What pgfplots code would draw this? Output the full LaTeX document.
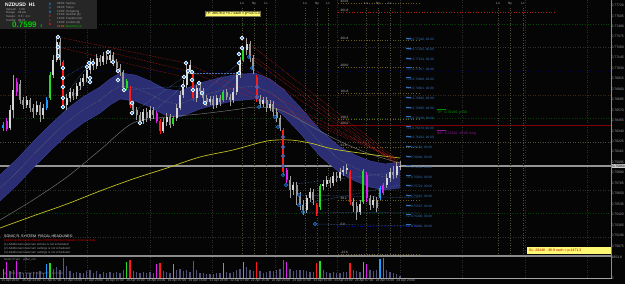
\documentclass[border=0pt]{standalone}
\usepackage{pgfplots}
\pgfplotsset{compat=1.18}
\usepackage{pgfplotstable}
\usepackage{fontspec}
\setmainfont{Liberation Sans}

\definecolor{bg}{HTML}{050505}
\definecolor{gridc}{HTML}{303030}
\definecolor{candup}{HTML}{D6D6D6}
\definecolor{canddn}{HTML}{969696}
\definecolor{wick}{HTML}{A0A0A0}
\definecolor{cred}{HTML}{FF1A1A}
\definecolor{cgreen}{HTML}{22DD22}
\definecolor{cmag}{HTML}{DD22EE}
\definecolor{cblue}{HTML}{1E9BFF}
\definecolor{vol}{HTML}{50507A}
\definecolor{band}{HTML}{2B2E72}
\definecolor{bandedge}{HTML}{3C42A2}
\definecolor{ma}{HTML}{707070}
\definecolor{yel}{HTML}{C0C020}
\definecolor{dotb}{HTML}{1F7BE0}
\definecolor{reddot}{HTML}{B41C1C}
\definecolor{bluedot}{HTML}{4A6FB0}
\definecolor{fib}{HTML}{6A5C18}
\definecolor{tpblue}{HTML}{3470B8}
\definecolor{lab}{HTML}{A0A0A0}

\newcommand{\fs}[1]{\fontsize{#1}{#1}\selectfont}

% bearish grey candles: i open high low close volume
\pgfplotstableread{
i o h l c v
5 0.76856 0.76900 0.76636 0.76680 600
6 0.76680 0.76713 0.76581 0.76625 500
8 0.76680 0.76702 0.76548 0.76592 500
9 0.76592 0.76636 0.76482 0.76548 600
11 0.76625 0.76658 0.76438 0.76515 650
17 0.77318 0.77362 0.77054 0.77120 800
21 0.76768 0.76801 0.76680 0.76724 500
27 0.77098 0.77131 0.77010 0.77054 500
29 0.77142 0.77175 0.77054 0.77098 400
31 0.77164 0.77197 0.77076 0.77120 450
33 0.77175 0.77208 0.77054 0.77098 500
34 0.77098 0.77131 0.76988 0.77032 550
35 0.77032 0.77076 0.76944 0.76988 450
36 0.76988 0.77010 0.76768 0.76812 800
39 0.76625 0.76669 0.76526 0.76570 700
40 0.76570 0.76603 0.76460 0.76515 600
41 0.76515 0.76548 0.76405 0.76449 500
43 0.76548 0.76592 0.76438 0.76482 450
45 0.76570 0.76603 0.76471 0.76515 500
50 0.76493 0.76526 0.76372 0.76405 450
59 0.76812 0.76856 0.76735 0.76779 500
60 0.76779 0.76812 0.76647 0.76702 450
61 0.76702 0.76735 0.76614 0.76658 400
63 0.76691 0.76724 0.76581 0.76625 400
65 0.76702 0.76735 0.76614 0.76658 500
67 0.76768 0.76801 0.76680 0.76713 600
68 0.76713 0.76746 0.76614 0.76680 500
74 0.77296 0.77329 0.77098 0.77142 800
75 0.77142 0.77175 0.76966 0.77010 700
77 0.76691 0.76735 0.76592 0.76636 700
79 0.76680 0.76713 0.76548 0.76592 600
81 0.76636 0.76669 0.76504 0.76548 700
82 0.76548 0.76592 0.76438 0.76482 800
83 0.76482 0.76515 0.76339 0.76372 900
86 0.75800 0.75844 0.75602 0.75690 900
88 0.75745 0.75778 0.75525 0.75624 800
89 0.75624 0.75668 0.75470 0.75525 750
90 0.75525 0.75580 0.75415 0.75470 800
93 0.75668 0.75701 0.75525 0.75580 550
98 0.75800 0.75833 0.75712 0.75767 500
100 0.75844 0.75888 0.75778 0.75822 450
105 0.75558 0.75602 0.75448 0.75514 800
106 0.75514 0.75558 0.75360 0.75448 700
110 0.75602 0.75635 0.75470 0.75525 800
112 0.75580 0.75613 0.75448 0.75492 800
117 0.75888 0.75954 0.75811 0.75855 500
}\tabDown

% bullish light candles
\pgfplotstableread{
i o h l c v
2 0.76372 0.76625 0.76350 0.76570 700
3 0.76570 0.76955 0.76482 0.76790 800
7 0.76625 0.76724 0.76592 0.76680 450
10 0.76548 0.76669 0.76515 0.76625 550
12 0.76515 0.76636 0.76471 0.76592 500
15 0.76955 0.77175 0.76922 0.77120 900
16 0.77120 0.77373 0.77098 0.77318 1000
19 0.76625 0.76746 0.76570 0.76702 1100
20 0.76702 0.76812 0.76658 0.76768 700
22 0.76724 0.76867 0.76691 0.76834 600
23 0.76834 0.76922 0.76790 0.76878 500
24 0.76878 0.76966 0.76834 0.76922 450
25 0.76922 0.77054 0.76878 0.77010 700
26 0.77010 0.77142 0.76966 0.77098 800
28 0.77054 0.77186 0.77021 0.77142 650
30 0.77098 0.77208 0.77065 0.77164 550
32 0.77120 0.77230 0.77087 0.77175 600
42 0.76449 0.76581 0.76416 0.76548 550
44 0.76482 0.76614 0.76449 0.76570 600
48 0.76339 0.76482 0.76317 0.76438 700
49 0.76438 0.76537 0.76394 0.76493 550
52 0.76482 0.76636 0.76449 0.76592 800
53 0.76592 0.76779 0.76570 0.76735 900
54 0.76735 0.76900 0.76702 0.76845 700
55 0.76845 0.77065 0.76812 0.77010 800
56 0.77010 0.77120 0.76966 0.77065 600
58 0.76702 0.76845 0.76658 0.76812 800
62 0.76658 0.76724 0.76625 0.76691 350
64 0.76625 0.76735 0.76592 0.76702 450
69 0.76680 0.76812 0.76647 0.76768 550
70 0.76768 0.76988 0.76735 0.76955 800
71 0.76955 0.77153 0.76922 0.77120 900
73 0.77230 0.77362 0.77175 0.77296 1000
78 0.76636 0.76713 0.76603 0.76680 500
80 0.76592 0.76680 0.76559 0.76636 650
87 0.75690 0.75778 0.75635 0.75745 700
91 0.75470 0.75635 0.75437 0.75602 700
92 0.75602 0.75712 0.75558 0.75668 600
96 0.75734 0.75800 0.75690 0.75756 800
97 0.75756 0.75844 0.75723 0.75800 600
99 0.75767 0.75888 0.75734 0.75844 550
101 0.75822 0.75932 0.75789 0.75888 500
102 0.75888 0.75954 0.75844 0.75910 600
103 0.75910 0.75976 0.75866 0.75932 550
107 0.75448 0.75580 0.75415 0.75536 600
111 0.75525 0.75624 0.75492 0.75580 700
115 0.75745 0.75866 0.75712 0.75822 800
116 0.75822 0.75932 0.75778 0.75888 600
118 0.75855 0.75998 0.75822 0.75954 350
119 0.75954 0.76009 0.75910 0.75954 200
}\tabUp

% red signal candles
\pgfplotstableread{
i o h l c v
18 0.77098 0.77120 0.76592 0.76625 1900
38 0.76790 0.76834 0.76592 0.76625 1700
47 0.76449 0.76471 0.76306 0.76339 1400
57 0.76977 0.76999 0.76669 0.76702 1600
76 0.76933 0.76955 0.76658 0.76691 1500
84 0.76350 0.76372 0.75855 0.75888 1700
94 0.75525 0.75547 0.75404 0.75437 1400
104 0.75888 0.75910 0.75525 0.75558 1400
}\tabRed

% green signal candles
\pgfplotstableread{
i o h l c v
14 0.76702 0.76988 0.76680 0.76955 1400
37 0.76812 0.76911 0.76790 0.76889 1500
51 0.76416 0.76504 0.76394 0.76482 1300
66 0.76680 0.76790 0.76658 0.76768 1400
72 0.77120 0.77263 0.77098 0.77230 1500
95 0.75503 0.75756 0.75470 0.75734 1600
108 0.75558 0.75921 0.75536 0.75899 1500
}\tabGreen

% magenta signal candles
\pgfplotstableread{
i o h l c v
1 0.76449 0.76482 0.76339 0.76361 1500
4 0.76768 0.76922 0.76724 0.76878 1600
46 0.76537 0.76559 0.76427 0.76449 1300
85 0.75910 0.75932 0.75767 0.75800 1500
109 0.75855 0.75888 0.75558 0.75602 1300
114 0.75657 0.75767 0.75635 0.75745 1900
}\tabMag

% blue signal candles
\pgfplotstableread{
i o h l c v
0 0.76372 0.76438 0.76339 0.76405 900
13 0.76592 0.76713 0.76570 0.76680 1300
113 0.75602 0.75734 0.75580 0.75712 1800
}\tabBlue

% ribbon: upper edge, lower edge, centre
\pgfplotstableread{
i u d c
-1 0.75855 0.75569 0.75712
4.1 0.76031 0.75745 0.75888
8.9 0.76218 0.75932 0.76075
14 0.76405 0.76119 0.76262
19.1 0.76581 0.76295 0.76438
23.9 0.76713 0.76427 0.76570
29 0.76823 0.76537 0.76680
32 0.76911 0.76625 0.76768
35 0.76977 0.76691 0.76834
39.5 0.76955 0.76669 0.76812
44 0.76889 0.76603 0.76746
48.5 0.76801 0.76515 0.76658
53 0.76779 0.76493 0.76636
59 0.76867 0.76581 0.76724
63.5 0.76911 0.76625 0.76768
68.9 0.76955 0.76669 0.76812
75.5 0.76977 0.76691 0.76834
80 0.76911 0.76625 0.76768
83.9 0.76801 0.76515 0.76658
89 0.76603 0.76317 0.76460
95 0.76350 0.76064 0.76207
101 0.76163 0.75877 0.76020
105.5 0.76075 0.75789 0.75932
110 0.76009 0.75723 0.75866
114.5 0.75976 0.75690 0.75833
119 0.75998 0.75712 0.75855
}\banddata

% ribbon outline as one closed polygon (upper edge, then lower edge back)
\pgfplotstableread{
i p
-1 0.75855
4.1 0.76031
8.9 0.76218
14 0.76405
19.1 0.76581
23.9 0.76713
29 0.76823
32 0.76911
35 0.76977
39.5 0.76955
44 0.76889
48.5 0.76801
53 0.76779
59 0.76867
63.5 0.76911
68.9 0.76955
75.5 0.76977
80 0.76911
83.9 0.76801
89 0.76603
95 0.76350
101 0.76163
105.5 0.76075
110 0.76009
114.5 0.75976
119 0.75998
119 0.75712
114.5 0.75690
110 0.75723
105.5 0.75789
101 0.75877
95 0.76064
89 0.76317
83.9 0.76515
80 0.76625
75.5 0.76691
68.9 0.76669
63.5 0.76625
59 0.76581
53 0.76493
48.5 0.76515
44 0.76603
39.5 0.76669
35 0.76691
32 0.76625
29 0.76537
23.9 0.76427
19.1 0.76295
14 0.76119
8.9 0.75932
4.1 0.75745
-1 0.75569
}\bandpoly

\pgfplotstableread{
i p
-1 0.75360
8.9 0.75580
19.1 0.75833
29 0.76130
38.9 0.76427
49.1 0.76493
59 0.76526
68.9 0.76570
76.1 0.76603
83 0.76570
89 0.76460
98.9 0.76262
109.1 0.76097
119 0.75987
}\graydata

\pgfplotstableread{
i p
-1 0.75272
8.9 0.75404
19.1 0.75536
29 0.75679
38.9 0.75811
49.1 0.75932
59 0.76053
68.9 0.76130
79.1 0.76229
86 0.76240
92 0.76207
98.9 0.76141
109.1 0.76086
119 0.76042
}\yeldata

\newcommand{\CandleSet}[3]{%
\addplot[draw=none, mark=none,
  error bars/.cd, y dir=plus, y explicit, error mark=none,
  error bar style={line width=0.6pt, draw=#3, solid}]
  table[x=i, y=l, y error expr={\thisrow{h}-\thisrow{l}}]{#1};
\addplot[draw=none, mark=none,
  error bars/.cd, y dir=plus, y explicit, error mark=none,
  error bar style={line width=1.8pt, draw=#2, solid}]
  table[x=i, y expr={min(\thisrow{o},\thisrow{c})}, y error expr={max(abs(\thisrow{c}-\thisrow{o}),0.00003)}]{#1};
}
\newcommand{\VolSet}[2]{%
\addplot[ycomb, mark=none, line width=1.6pt, draw=#2] table[x=i, y=v]{#1};
}

\begin{document}
\begin{tikzpicture}
\useasboundingbox (0,0) rectangle (625pt,284pt);
\begin{scope}[x=1pt,y=-1pt,yshift=284pt]
\fill[bg] (0,0) rectangle (625,284);
% vertical grid
\foreach \gx in {25,87.5,150,212.5,275,337.5,400,462.5,525,587.5}
  \draw[gridc, dotted, line width=0.5pt] (\gx,0) -- (\gx,278);
% horizontal level lines
\draw[green!28!black, dotted, line width=0.6pt] (0,24) -- (611,24);
\draw[gridc, dotted, line width=0.5pt] (0,47) -- (611,47);
\draw[blue!25!black, dotted, line width=0.5pt] (0,71) -- (611,71);
\draw[brown!30!black, dotted, line width=0.5pt] (0,95) -- (611,95);
\draw[green!25!black, dotted, line width=0.6pt] (0,118) -- (611,118);
\draw[yellow!20!black, dotted, line width=0.5pt] (0,142) -- (611,142);
\draw[gridc, dotted, line width=0.5pt] (0,190) -- (611,190);
\draw[green!25!black, dotted, line width=0.6pt] (0,213) -- (611,213);
\draw[gridc, dotted, line width=0.5pt] (0,237) -- (611,237);
\draw[black!42, line width=1.8pt] (0,166) -- (611,166);
% fibonacci levels
\foreach \fy/\ft in {3/423.6,40/261.8,67/200.0,93/161.8,119/138.2,147/61.8,200/38.2,254/-23.6}{
  \draw[fib, dotted, line width=0.6pt] (338,\fy) -- (420,\fy);
  \node[anchor=south west, inner sep=0.3pt, text=lab!75, font=\fs{3.2}] at (340,\fy) {\ft};
}
\draw[reddot, dotted, line width=0.7pt] (338,12) -- (556,12);
\node[anchor=south west, inner sep=0.3pt, text=lab!75, font=\fs{3.2}] at (340,12) {361.8};
\draw[red!50!black, line width=0.6pt] (330,125) -- (611,125);
\node[anchor=south west, inner sep=0.3pt, text=lab!75, font=\fs{3.2}] at (340,125) {100.0};
\draw[blue!55!black, dotted, line width=0.7pt] (338,226) -- (420,226);
\node[anchor=south west, inner sep=0.3pt, text=lab!75, font=\fs{3.2}] at (340,226) {0.0};
% session markers
\foreach \sx/\st in {242/Lo,254/Ny,266/Lc,305/Lo,317/Ny,328/Lc,366/Lo,378/Ny,390/Lc,498/Lo,510/Ny,523/Lc}{
  \draw[yellow!22!black, dotted, line width=0.5pt] (\sx,8) -- (\sx,256);
  \node[anchor=north, inner sep=0.3pt, text=lab!80, font=\fs{3.2}] at (\sx,2) {\st};
}
\end{scope}

% ---------------- main price panel ----------------
\begin{axis}[
  at={(0pt,29pt)}, anchor=south west, width=611pt, height=255pt, scale only axis,
  xmin=-1, xmax=182.3, ymin=0.74975, ymax=0.7778,
  axis line style={draw=none}, tick style={draw=none}, major tick length=0pt,
  xtick=\empty,
  ytick={0.77720,0.77605,0.77490,0.77375,0.77260,0.77145,0.77030,0.76915,0.76800,0.76685,0.76570,0.76455,0.76340,0.76225,0.76110,0.75995,0.75880,0.75765,0.75650,0.75535,0.75420,0.75305,0.75190,0.75075},
  yticklabels={0.77720,0.77605,0.77490,0.77375,0.77260,0.77145,0.77030,0.76915,0.76800,0.76685,0.76570,0.76455,0.76340,0.76225,0.76110,0.75995,0.75880,0.75765,0.75650,0.75535,0.75420,0.75305,0.75190,0.75075},
  yticklabel pos=right,
  yticklabel style={font=\fs{3.4}, text=lab, anchor=west, inner sep=0.4pt},
  clip=true,
]
% ribbon
\addplot[fill=band, draw=none] table[x=i,y=p]{\bandpoly} -- cycle;
\addplot[draw=bandedge, line width=0.4pt] table[x=i,y=u]{\banddata};
\addplot[draw=bandedge, line width=0.4pt] table[x=i,y=d]{\banddata};
\addplot[draw=black!50, line width=0.4pt, densely dotted] table[x=i,y=c]{\banddata};
% moving averages
\addplot[ma, line width=0.5pt, smooth] table[x=i,y=p]{\graydata};
\addplot[yel, line width=0.7pt, smooth] table[x=i,y=p]{\yeldata};
% dotted fan lines
\addplot[reddot, densely dotted, line width=0.55pt] coordinates {(71.6,0.77362) (117.5,0.76042)};
\addplot[reddot, densely dotted, line width=0.55pt] coordinates {(71.6,0.77252) (118.4,0.75998)};
\addplot[reddot, densely dotted, line width=0.55pt] coordinates {(73.7,0.77153) (117.5,0.75987)};
\addplot[reddot, densely dotted, line width=0.55pt] coordinates {(74.6,0.77032) (119,0.75954)};
\addplot[reddot, densely dotted, line width=0.55pt] coordinates {(76.1,0.76823) (117.5,0.76020)};
\addplot[reddot, densely dotted, line width=0.55pt] coordinates {(54.8,0.77087) (117.5,0.76042)};
\addplot[reddot, densely dotted, line width=0.55pt] coordinates {(56.6,0.76988) (118.4,0.76020)};
\addplot[reddot, densely dotted, line width=0.55pt] coordinates {(16.4,0.77373) (54.8,0.77087)};
\addplot[reddot, densely dotted, line width=0.55pt] coordinates {(16.4,0.77263) (54.2,0.76933)};
\addplot[reddot, densely dotted, line width=0.55pt] coordinates {(31.4,0.77208) (55.4,0.76999)};
\addplot[bluedot, densely dotted, line width=0.5pt] coordinates {(17.9,0.76922) (25.7,0.77087)};
\addplot[bluedot, densely dotted, line width=0.5pt] coordinates {(17.9,0.76702) (25.1,0.77043)};
\addplot[bluedot, densely dotted, line width=0.5pt] coordinates {(17.9,0.76603) (26,0.76922)};
\addplot[bluedot, densely dotted, line width=0.5pt] coordinates {(36.2,0.76790) (53.9,0.76834)};
\addplot[bluedot, densely dotted, line width=0.5pt] coordinates {(38.6,0.76537) (54.2,0.76933)};
\addplot[bluedot, densely dotted, line width=0.5pt] coordinates {(41,0.76427) (53.9,0.76834)};
\addplot[bluedot, densely dotted, line width=0.5pt] coordinates {(54.8,0.76977) (70.7,0.76977)};
\addplot[bluedot, densely dotted, line width=0.5pt] coordinates {(60.5,0.76647) (70.7,0.76977)};
\addplot[bluedot, densely dotted, line width=0.5pt] coordinates {(59.6,0.76757) (70.7,0.77087)};
\addplot[bluedot, densely dotted, line width=0.5pt] coordinates {(84.8,0.75745) (119,0.75888)};
\addplot[bluedot, densely dotted, line width=0.5pt] coordinates {(88.7,0.75635) (125,0.75602)};
\addplot[bluedot, densely dotted, line width=0.5pt] coordinates {(88.7,0.75525) (119,0.75745)};
\addplot[bluedot, densely dotted, line width=0.5pt] coordinates {(89.9,0.75448) (125,0.75437)};
\addplot[bluedot, densely dotted, line width=0.5pt] coordinates {(93.5,0.75316) (125,0.75294)};
% candles
\CandleSet{\tabDown}{canddn}{wick}
\CandleSet{\tabUp}{candup}{wick}
\CandleSet{\tabRed}{cred}{cred}
\CandleSet{\tabGreen}{cgreen}{cgreen}
\CandleSet{\tabMag}{cmag}{cmag}
\CandleSet{\tabBlue}{cblue}{cblue}
% swing markers
\addplot[only marks, mark=*, mark size=1.9pt, mark options={fill=dotb, draw=white, line width=0.6pt}] coordinates {
(16.4,0.77373) (16.4,0.77263) (16.4,0.77164) (17.9,0.77032) (17.9,0.76922) (17.9,0.76823) (17.9,0.76702) (17.9,0.76603)
(25.1,0.77043) (25.7,0.77087) (26.9,0.77087) (26,0.76922) (26,0.76878) (31.4,0.77208) (32.9,0.77098) (34.4,0.76999)
(34.4,0.76900) (36.2,0.76790) (38.6,0.76647) (38.6,0.76537) (41,0.76427) (53.9,0.76834) (54.2,0.76933) (54.8,0.77087)
(55.4,0.76999) (56.6,0.76988) (56.6,0.76900) (56.9,0.76790) (58.7,0.76867) (59.6,0.76757) (60.5,0.76647)
(70.7,0.76977) (70.7,0.77087) (70.7,0.77186) (71.6,0.77252) (71.6,0.77362)};
\addplot[only marks, mark=o, mark size=1.7pt, mark options={draw=dotb, line width=0.7pt}] coordinates {
(73.7,0.77153) (74.6,0.77032) (76.1,0.76823) (76.1,0.76713) (76.7,0.76603) (81.5,0.76493) (82.4,0.76383)
(83.9,0.76273) (83.9,0.76163) (83.9,0.76064) (83.9,0.75954) (83.9,0.75855) (84.8,0.75745) (88.7,0.75635)
(88.7,0.75525) (89.9,0.75448) (93.5,0.75316)};
\end{axis}

% ---------------- volume panel ----------------
\begin{axis}[
  at={(0pt,6pt)}, anchor=south west, width=611pt, height=21pt, scale only axis,
  xmin=-1, xmax=182.3, ymin=0, ymax=2000,
  axis line style={draw=none}, tick style={draw=none}, major tick length=0pt,
  ytick={0,1953.8}, yticklabels={0,1953.8}, yticklabel pos=right,
  yticklabel style={font=\fs{3.4}, text=lab, anchor=west, inner sep=0.4pt},
  xtick={-0.7,5.54,11.78,18.02,24.26,30.5,36.74,42.98,49.22,55.46,61.7,67.94,74.18,80.42,86.66,92.9,99.14,105.38,111.62,117.86},
  xticklabels={15 Apr 2013,16 Apr 23:00,17 Apr 07:00,17 Apr 15:00,17 Apr 23:00,18 Apr 07:00,18 Apr 15:00,18 Apr 23:00,19 Apr 07:00,19 Apr 15:00,21 Apr 23:00,22 Apr 07:00,22 Apr 15:00,22 Apr 23:00,23 Apr 07:00,23 Apr 15:00,23 Apr 23:00,24 Apr 07:00,24 Apr 15:00,24 Apr 23:00},
  xticklabel style={font=\fs{3.2}, text=lab, anchor=north west, inner sep=0.3pt, yshift=-1pt},
  clip=true,
]
\VolSet{\tabDown}{vol}
\VolSet{\tabUp}{vol}
\VolSet{\tabRed}{cred}
\VolSet{\tabGreen}{cgreen}
\VolSet{\tabMag}{cmag}
\VolSet{\tabBlue}{cblue}
\end{axis}

% ---------------- frame and texts ----------------
\begin{scope}[x=1pt,y=-1pt,yshift=284pt]
\draw[black!45, line width=0.8pt] (611.5,0) -- (611.5,278.5);
\draw[black!45, line width=1.2pt] (0,256) -- (611.5,256);
\draw[black!35, line width=0.6pt] (0,278.5) -- (611.5,278.5);
% info panel
\fill[black!85] (0,0) rectangle (97,29);
\node[anchor=west, inner sep=0pt, text=white, font=\fs{5}\bfseries] at (5,4.5) {NZDUSD \ H1};
\node[anchor=west, inner sep=0pt, text=lab, font=\fs{2.9}] at (6,9.5) {Spread: \ \ 1.80};
\node[anchor=west, inner sep=0pt, text=lab, font=\fs{2.9}] at (6,13) {Range: \ \ 98 pts};
\node[anchor=west, inner sep=0pt, text=lab, font=\fs{2.9}] at (6,16.5) {Swaps: \ \ 0.6 / -2.4};
\node[anchor=west, inner sep=0pt, text=lab, font=\fs{2.9}] at (6,20) {Candle: \ 09:18};
\node[anchor=base west, inner sep=0pt, text=green!80!black, font=\fs{8}\bfseries] at (12,28) {0.7599};
\node[anchor=base west, inner sep=0pt, text=green!80!black, font=\fs{4.5}] at (40,28) {4};
\foreach \ly/\lc/\lt in {4/cblue/S,8/cblue/T,12/cblue/H,16/cred/F,20/cred/L,24/cred/N}
  \node[inner sep=0pt, text=\lc, font=\fs{3.2}\bfseries] at (50,\ly) {\lt};
\foreach \ly/\lt in {3.5/08:00 \ Sydney,7.4/09:00 \ Tokyo,11.3/10:00 \ Hongkong,15.2/15:00 \ Helsinki (8),19.1/15:00 \ Frankfurt (8),23/16:00 \ London (8)}
  \node[anchor=west, inner sep=0pt, text=lab, font=\fs{2.9}] at (57,\ly) {\lt};
\node[anchor=west, inner sep=0pt, font=\fs{2.9}] at (57,26.9) {\textcolor{orange}{21:00} \ \textcolor{green!75!black}{NewYork (1)}};
% labels near targets
\node[anchor=west, inner sep=0.6pt, fill=yellow!55!white, draw=yellow!40!black, line width=0.3pt, text=black, font=\fs{3.5}] at (205,13.5) {TP: 38578.0 +4.7 each = p+1471.3};
\fill[yellow!55!white] (527,247.5) rectangle (611,254.5);
\node[anchor=west, inner sep=0pt, text=red!70!black, font=\fs{3.5}] at (529,251) {SL: 20448 \ -36.9 each = p-1471.3};
\draw[green!55!black, line width=0.6pt] (437,109.5) -- (446,109.5);
\node[anchor=west, inner sep=0pt, text=green!60!black, font=\fs{3.5}] at (437,112.5) {TP: \ 0.76180, p+00};
\draw[cmag!65!black, line width=0.6pt] (437,130.5) -- (446,130.5);
\node[anchor=west, inner sep=0pt, text=cmag!65!black, font=\fs{3.5}] at (437,133.5) {BE: \ 0.76282, 20:00 long};
\foreach \ty/\tn/\tp in {40/20/0.77340,49.8/19/0.77232,59.6/18/0.77124,69.4/17/0.77017,79.2/16/0.76909,89/15/0.76801,98.8/14/0.76693,108.6/13/0.76585,118.4/12/0.76478,128.2/11/0.76370,138/10/0.76262,147.8/9/0.76154,157.6/8/0.76046,167.4/7/0.75939,177.2/6/0.75831,187/5/0.75723,196.8/4/0.75615,206.6/3/0.75507,216.4/2/0.75400,226.2/1/0.75292}{
  \draw[tpblue, line width=0.4pt] (406,\ty-1.8) -- (411,\ty-1.8);
  \node[anchor=west, inner sep=0pt, text=tpblue, font=\fs{3.2}] at (406,\ty) {T\tn \ \tp, 90.00};
}
% current price tag
\node[anchor=west, inner sep=0.4pt, fill=black!20, text=black, font=\fs{3.4}] at (612,166) {0.75954};
% bottom-left headlines
\node[anchor=west, inner sep=0pt, text=white, font=\fs{3.6}] at (4,236) {SONIC R. SYSTEM \ FISCAL HEADLINES:};
\node[anchor=west, inner sep=0pt, text=red!85!black, font=\fs{3}] at (4,240.5) {Fed Chair Bernanke Speaks / FOMC Member Speaks / Interest Rate};
\node[anchor=west, inner sep=0pt, text=lab, font=\fs{3}] at (4,244.5) {(1) Additional news/cam entries is not scheduled};
\node[anchor=west, inner sep=0pt, text=lab, font=\fs{3}] at (4,248.5) {(2) Additional news/cam settings is not scheduled};
\node[anchor=west, inner sep=0pt, text=lab, font=\fs{3}] at (4,252.5) {(3) Additional news/cam settings is not scheduled};
\node[anchor=west, inner sep=0pt, text=lab, font=\fs{3}] at (4,259.5) {Sonic R Vol \quad pillar\_cm};
\node[anchor=west, inner sep=0pt, text=black!55, font=\fs{3}] at (4,273.5) {(C) 2011-2013, Sonic R System Trader Cafe};
\end{scope}
\end{tikzpicture}
\end{document}
